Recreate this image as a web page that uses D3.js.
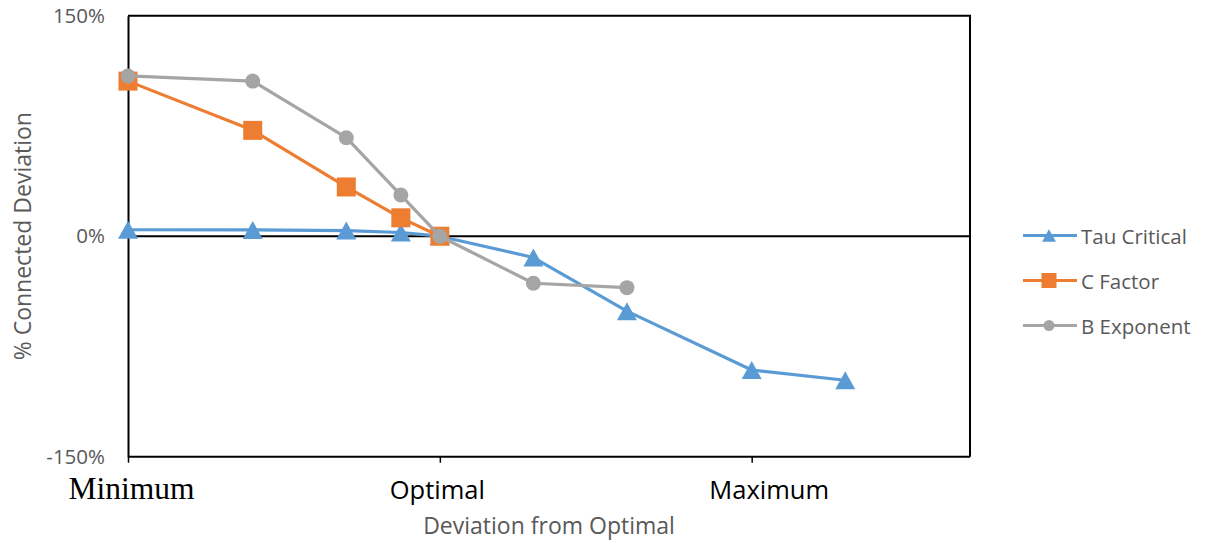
<!DOCTYPE html>
<html>
<head>
<meta charset="utf-8">
<script src="https://cdn.jsdelivr.net/npm/d3@7"></script>
<style>
  html, body { margin: 0; padding: 0; background: #fff; }
  svg { display: block; }
</style>
</head>
<body>
<svg id="chart" width="1212" height="543"></svg>
<script>
// Position along the deviation axis (0 = minimum, 1 = optimal, 2 = maximum)
const tauX = [0, 0.4, 0.7, 0.875, 1, 1.3, 1.6, 2, 2.3];
const cFactorX = [0, 0.4, 0.7, 0.875, 1];
const bExpX = [0, 0.4, 0.7, 0.875, 1, 1.3, 1.6];

// % connected deviation for each parameter
const tauCritical = [4.4, 4.3, 3.8, 2.5, 0, -14.5, -51, -91, -98];
const cFactor = [105.5, 72, 33.5, 12.5, 0];
const bExponent = [109, 105.5, 67, 28, 0, -32, -35];

const seriesNames = ["Tau Critical", "C Factor", "B Exponent"];
const xTickValues = [0, 1, 2];
const xTickLabels = ["Minimum", "Optimal", "Maximum"];
const yTickValues = [-150, 0, 150];

const colors = ["#5B9BD5", "#ED7D31", "#A5A5A5"];
const shapes = ["triangle", "square", "circle"];

const svg = d3.select("#chart");
const plotL = 128, plotR = 970, plotT = 15.7, plotB = 456.7;

const x = d3.scaleLinear().domain([0, 2.7]).range([plotL, plotR]);
const y = d3.scaleLinear().domain([-150, 150]).range([plotB, plotT]);

const series = [
  { name: seriesNames[0], xs: tauX, ys: tauCritical },
  { name: seriesNames[1], xs: cFactorX, ys: cFactor },
  { name: seriesNames[2], xs: bExpX, ys: bExponent }
];

// Plot frame: top and right edges
svg.append("path")
  .attr("d", `M${plotL},${plotT}H${plotR}V${plotB}`)
  .attr("fill", "none").attr("stroke", "#000").attr("stroke-width", 2);

// Y axis
const yAxis = svg.append("g")
  .attr("transform", `translate(${plotL},0)`)
  .call(d3.axisLeft(y).tickValues(yTickValues).tickSize(0).tickPadding(23).tickFormat(d => d + "%"));
yAxis.select(".domain").attr("stroke", "#000").attr("stroke-width", 2);
yAxis.selectAll("text")
  .attr("font-family", "'Open Sans', sans-serif")
  .attr("font-size", 20.5)
  .attr("fill", "#595959");

// X axis along the bottom edge
const xAxis = svg.append("g")
  .attr("transform", `translate(0,${plotB})`)
  .call(d3.axisBottom(x).tickValues(xTickValues).tickSize(6).tickPadding(13)
    .tickFormat((d, i) => xTickLabels[i]));
xAxis.select(".domain").attr("stroke", "#000").attr("stroke-width", 2)
  .attr("d", `M${plotL},0H${plotR}`);
xAxis.selectAll(".tick line").attr("stroke", "#000").attr("stroke-width", 1.5);

// Category label typography and nudges
const catStyle = [
  { family: "'Liberation Serif', 'Times New Roman', serif", size: 31.5, dx: 3 },
  { family: "'Open Sans', sans-serif", size: 25.5, dx: -3 },
  { family: "'Open Sans', sans-serif", size: 25.5, dx: 17 }
];
xAxis.selectAll(".tick text")
  .attr("fill", "#000")
  .attr("dy", null)
  .attr("y", 42)
  .each(function (d, i) {
    d3.select(this)
      .attr("font-family", catStyle[i].family)
      .attr("font-size", catStyle[i].size)
      .attr("dx", catStyle[i].dx);
  });

// Zero line across the plot
svg.append("line")
  .attr("x1", plotL).attr("x2", plotR)
  .attr("y1", y(0)).attr("y2", y(0))
  .attr("stroke", "#000").attr("stroke-width", 2);

// Axis titles
svg.append("text")
  .attr("transform", `translate(22,${y(0)}) rotate(-90)`)
  .attr("text-anchor", "middle").attr("dominant-baseline", "central")
  .attr("font-family", "'Open Sans', sans-serif").attr("font-size", 23)
  .attr("fill", "#595959")
  .text("% Connected Deviation");

svg.append("text")
  .attr("x", 549).attr("y", 534)
  .attr("text-anchor", "middle")
  .attr("font-family", "'Open Sans', sans-serif").attr("font-size", 23)
  .attr("fill", "#595959")
  .text("Deviation from Optimal");

function marker(g, shape, cx, cy, s, color) {
  if (shape === "triangle") {
    const w = s, h = s * 0.9;
    g.append("path")
      .attr("d", `M${cx},${cy - h / 2}L${cx + w / 2},${cy + h / 2}L${cx - w / 2},${cy + h / 2}Z`)
      .attr("fill", color);
  } else if (shape === "square") {
    g.append("rect")
      .attr("x", cx - s / 2).attr("y", cy - s / 2)
      .attr("width", s).attr("height", s)
      .attr("fill", color);
  } else {
    g.append("circle").attr("cx", cx).attr("cy", cy).attr("r", s / 2).attr("fill", color);
  }
}

const markerSize = [20, 19, 15];
const line = d3.line().x(d => x(d[0])).y(d => y(d[1]));

series.forEach((s, si) => {
  const g = svg.append("g");
  const pts = s.xs.map((v, i) => [v, s.ys[i]]);
  g.append("path")
    .attr("d", line(pts))
    .attr("fill", "none")
    .attr("stroke", colors[si])
    .attr("stroke-width", 3.2)
    .attr("stroke-linejoin", "round");
  pts.forEach(p => marker(g, shapes[si], x(p[0]), y(p[1]), markerSize[si], colors[si]));
});

// Legend
const legendY = [235.5, 280.5, 325.5];
const legendMarker = [14, 15, 11];
series.forEach((s, si) => {
  const g = svg.append("g");
  g.append("line")
    .attr("x1", 1023).attr("x2", 1077)
    .attr("y1", legendY[si]).attr("y2", legendY[si])
    .attr("stroke", colors[si]).attr("stroke-width", 3.2);
  marker(g, shapes[si], 1049, legendY[si], legendMarker[si], colors[si]);
  g.append("text")
    .attr("x", 1081).attr("y", legendY[si])
    .attr("dominant-baseline", "central")
    .attr("font-family", "'Open Sans', sans-serif").attr("font-size", 20.5)
    .attr("fill", "#595959")
    .text(s.name);
});
</script>
</body>
</html>
